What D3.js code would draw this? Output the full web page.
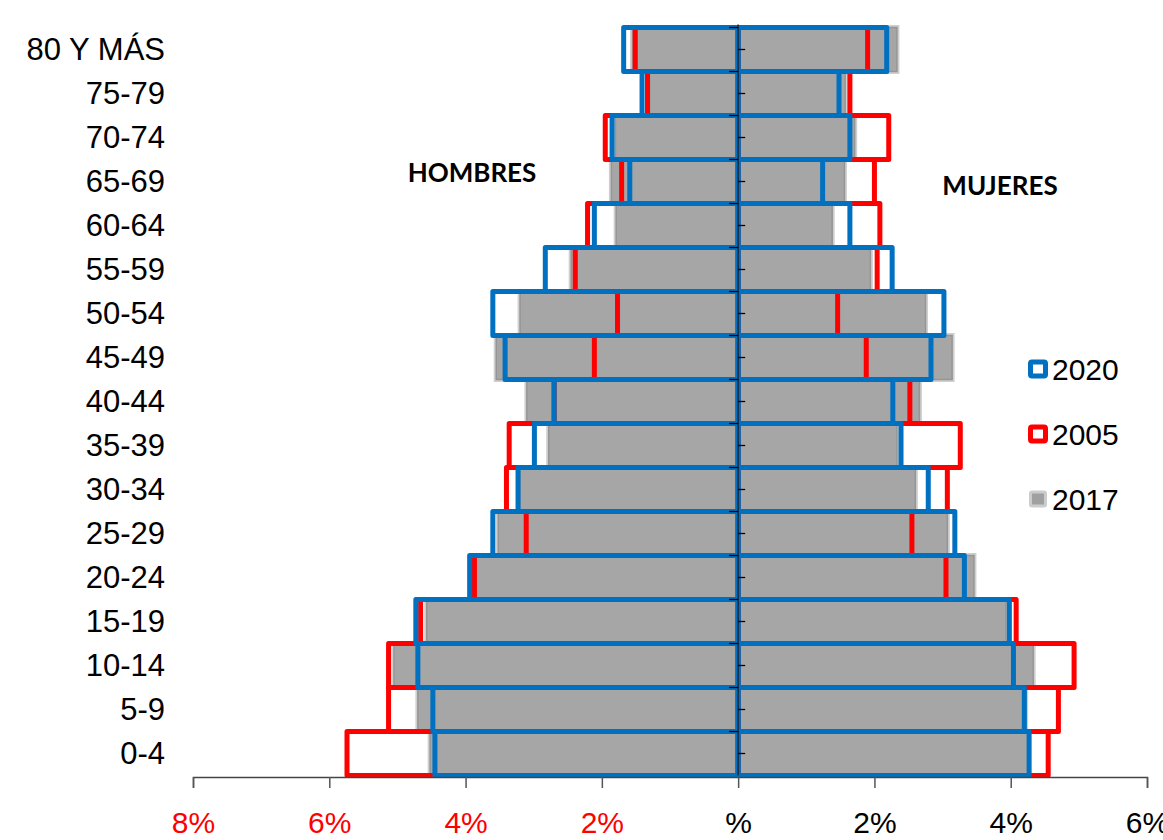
<!DOCTYPE html>
<html>
<head>
<meta charset="utf-8">
<script src="https://cdn.jsdelivr.net/npm/d3@7"></script>
<style>
  body { margin: 0; background: #fff; }
  svg { display: block; }
</style>
</head>
<body>
<svg id="chart" width="1163" height="840"></svg>
<script>
// Age groups, bottom to top
const categories = ["0-4","5-9","10-14","15-19","20-24","25-29","30-34","35-39","40-44","45-49","50-54","55-59","60-64","65-69","70-74","75-79","80 Y MÁS"];

// Men (% of population, drawn to the left)
const men2017 = [4.52, 4.70, 5.05, 4.57, 3.85, 3.52, 3.20, 2.78, 3.10, 3.55, 3.20, 2.45, 1.79, 1.86, 1.80, 1.30, 1.55];
const men2005 = [5.74, 5.13, 5.13, 4.66, 3.87, 3.11, 3.40, 3.36, 2.70, 2.11, 1.77, 2.39, 2.21, 1.71, 1.95, 1.33, 1.51];
const men2020 = [4.45, 4.48, 4.70, 4.73, 3.94, 3.60, 3.23, 2.99, 2.70, 3.42, 3.60, 2.83, 2.11, 1.59, 1.85, 1.41, 1.68];

// Women (% of population, drawn to the right)
const women2017 = [4.25, 4.22, 4.33, 3.93, 3.46, 3.07, 2.60, 2.33, 2.66, 3.14, 2.75, 1.94, 1.38, 1.56, 1.71, 1.57, 2.33];
const women2005 = [4.55, 4.70, 4.93, 4.08, 3.05, 2.55, 3.07, 3.26, 2.52, 1.88, 1.46, 2.04, 2.08, 2.00, 2.21, 1.64, 1.90];
const women2020 = [4.27, 4.20, 4.04, 3.98, 3.32, 3.18, 2.79, 2.39, 2.27, 2.83, 3.02, 2.26, 1.64, 1.24, 1.64, 1.48, 2.18];

// Axis ticks
const xTicks = [-8, -6, -4, -2, 0, 2, 4, 6];
const xTickLabels = ["8%", "6%", "4%", "2%", "%", "2%", "4%", "6%"];

const seriesNames = ["2020", "2005", "2017"];
const sideLabels = ["HOMBRES", "MUJERES"];

const svg = d3.select("#chart");
const x = d3.scaleLinear().domain([-8, 6]).range([193, 1147]);
const y = d3.scaleBand().domain(categories.slice().reverse()).range([27.5, 775.5]).padding(0);

const gBars = svg.append("g");

function drawSeries(vals, sign, cls) {
  const data = categories.map((c, i) => ({ c, v: vals[i] * sign }));
  return gBars.selectAll("rect." + cls)
    .data(data)
    .join("rect")
    .attr("class", cls)
    .attr("x", d => Math.min(x(d.v), x(0)))
    .attr("width", d => Math.abs(x(d.v) - x(0)))
    .attr("y", d => y(d.c))
    .attr("height", y.bandwidth());
}

// 2017 grey bars (shadow + fill + border)
[[men2017, -1], [women2017, 1]].forEach(([vals, s], k) => {
  drawSeries(vals, s, "gshadow" + k)
    .attr("fill", "none").attr("stroke", "#cfcfcf").attr("stroke-width", 5);
  drawSeries(vals, s, "grey" + k)
    .attr("fill", "#a6a6a6").attr("stroke", "#959595").attr("stroke-width", 1.5);
});
// 2005 red outlines
[[men2005, -1], [women2005, 1]].forEach(([vals, s], k) => {
  drawSeries(vals, s, "red" + k)
    .attr("fill", "none").attr("stroke", "#ff0000").attr("stroke-width", 5)
    .attr("stroke-linejoin", "round");
});
// 2020 blue outlines
[[men2020, -1], [women2020, 1]].forEach(([vals, s], k) => {
  drawSeries(vals, s, "blue" + k)
    .attr("fill", "none").attr("stroke", "#0070c0").attr("stroke-width", 5)
    .attr("stroke-linejoin", "round");
});

// Vertical axis at zero
const x0 = x(0);
svg.append("line")
  .attr("x1", x0).attr("x2", x0)
  .attr("y1", y.range()[0] - 3).attr("y2", y.range()[1])
  .attr("stroke", "#1a2a40").attr("stroke-width", 1.5);
// boundary ticks (left) and center ticks (right)
const bounds = categories.map(c => y(c));
svg.append("g").selectAll("line")
  .data(bounds)
  .join("line")
  .attr("x1", x0 - 9).attr("x2", x0)
  .attr("y1", d => d).attr("y2", d => d)
  .attr("stroke", "#000").attr("stroke-width", 1.3);
svg.append("g").selectAll("line")
  .data(categories)
  .join("line")
  .attr("x1", x0).attr("x2", x0 + 7)
  .attr("y1", d => y(d) + y.bandwidth() / 2).attr("y2", d => y(d) + y.bandwidth() / 2)
  .attr("stroke", "#000").attr("stroke-width", 1.3);

// Category labels
svg.append("g").selectAll("text")
  .data(categories)
  .join("text")
  .attr("x", 165)
  .attr("y", d => y(d) + y.bandwidth() / 2)
  .attr("dy", "0.34em")
  .attr("text-anchor", "end")
  .attr("font-family", "'Liberation Sans', Arial, sans-serif")
  .attr("font-size", 31)
  .attr("fill", "#000")
  .text(d => d);

// X axis
const xAxisY = 777;
const xAxis = d3.axisBottom(x)
  .tickValues(xTicks)
  .tickSize(11)
  .tickPadding(24)
  .tickFormat((d, i) => xTickLabels[i]);
const gx = svg.append("g").attr("transform", `translate(0,${xAxisY})`).call(xAxis);
gx.select(".domain").attr("stroke", "#444").attr("stroke-width", 1.5);
gx.selectAll(".tick line").attr("stroke", "#555").attr("stroke-width", 1.5);
gx.selectAll(".tick text")
  .attr("font-family", "'Liberation Sans', Arial, sans-serif")
  .attr("font-size", 30)
  .attr("fill", d => d < 0 ? "#ff0000" : "#000");

// Side labels
svg.append("text")
  .attr("x", 472).attr("y", 182)
  .attr("text-anchor", "middle")
  .attr("font-family", "Lato, 'Open Sans', sans-serif")
  .attr("font-weight", 700)
  .attr("font-size", 26)
  .text(sideLabels[0]);
svg.append("text")
  .attr("x", 1000).attr("y", 195)
  .attr("text-anchor", "middle")
  .attr("font-family", "Lato, 'Open Sans', sans-serif")
  .attr("font-weight", 700)
  .attr("font-size", 26)
  .text(sideLabels[1]);

// Legend
const legend = svg.append("g");
const legendStyles = [
  { stroke: "#0070c0", fill: "#fff", sw: 5 },
  { stroke: "#ff0000", fill: "#fff", sw: 5 },
  { stroke: "#cccccc", fill: "#a0a0a0", sw: 3 }
];
seriesNames.forEach((name, i) => {
  const cy = 369 + i * 65;
  const st = legendStyles[i];
  legend.append("rect")
    .attr("x", 1030.5).attr("y", cy - 7)
    .attr("width", 15).attr("height", 14)
    .attr("rx", 1.5)
    .attr("fill", st.fill).attr("stroke", st.stroke).attr("stroke-width", st.sw);
  legend.append("text")
    .attr("x", 1052).attr("y", cy + 11)
    .attr("font-family", "'Liberation Sans', Arial, sans-serif")
    .attr("font-size", 30)
    .text(name);
});
</script>
</body>
</html>
